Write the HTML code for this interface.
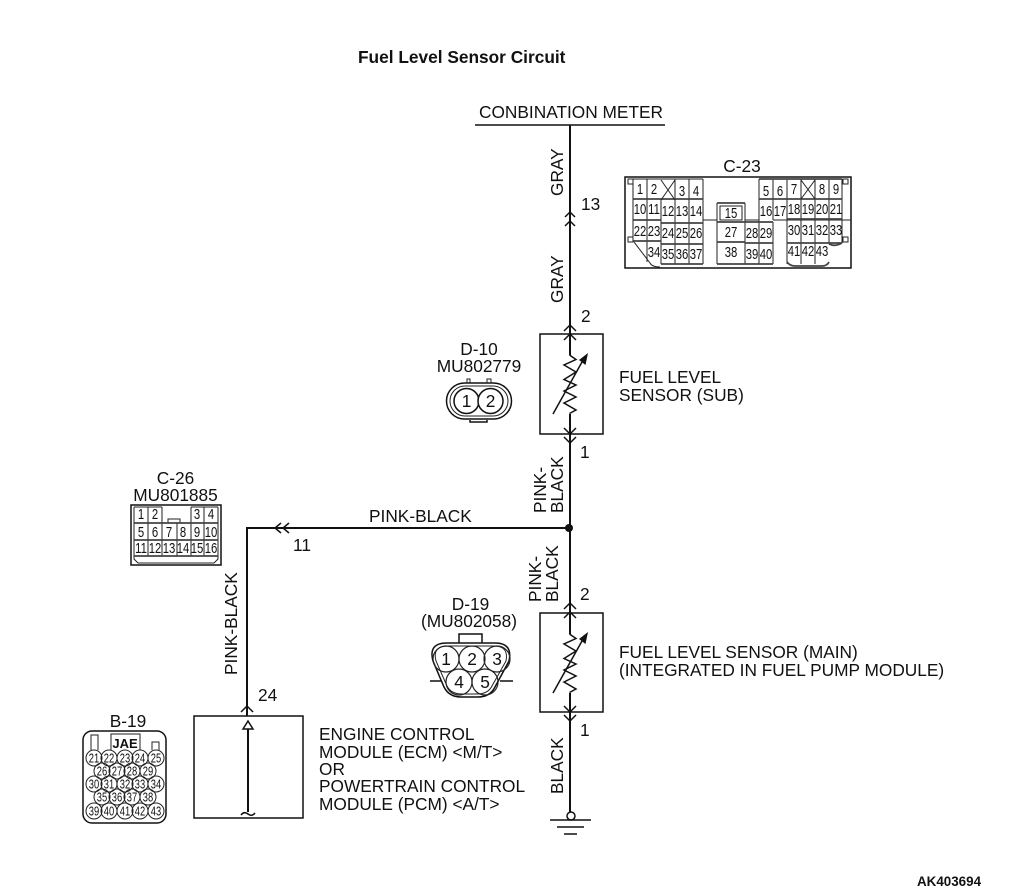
<!DOCTYPE html>
<html><head><meta charset="utf-8"><style>
html,body{margin:0;padding:0;background:#fff}
svg{display:block}
text{font-family:"Liberation Sans",sans-serif;fill:#111}
.t{font-size:17.3px}
.n{font-size:14.5px;text-anchor:middle;transform-box:fill-box;transform-origin:center;transform:scaleX(.78)}
.m{font-size:17.3px;text-anchor:middle}
.s{font-size:13px;text-anchor:middle;transform-box:fill-box;transform-origin:center;transform:scaleX(.72)}
.w{stroke:#111;stroke-width:2;fill:none}
.b{stroke:#111;stroke-width:1.5;fill:none}
.h{stroke:#222;stroke-width:1;fill:none}
.g{stroke:#444;stroke-width:1.8;fill:none}
</style></head><body>
<svg width="1010" height="896" viewBox="0 0 1010 896" xmlns="http://www.w3.org/2000/svg">
<text x="358" y="63" style="font-size:17.3px;font-weight:bold">Fuel Level Sensor Circuit</text>
<text x="917" y="886" style="font-size:13.4px;font-weight:bold">AK403694</text>
<text x="479" y="118" class="t">CONBINATION METER</text>
<path class="b" d="M475 125H665"/>
<path class="w" d="M570 125V355M570 414V634M570 693V813M569 528H247V716"/>
<circle cx="569" cy="528" r="4" fill="#111"/>
<path class="b" d="M565 217L570 212L575 217M565 226L570 221L575 226M564 331L570 325L576 331M564 340L570 334L576 340M564 428L570 434L576 428M564 437L570 443L576 437M564 609L570 603L576 609M564 618L570 612L576 618M564 706L570 712L576 706M564 715L570 721L576 715M281 523L275 528L281 533M289 523L283 528L289 533M241 712L247 706L253 712"/>
<g transform="translate(563,196) rotate(-90)"><text class="t">GRAY</text></g>
<g transform="translate(563,303) rotate(-90)"><text class="t">GRAY</text></g>
<g transform="translate(546,513) rotate(-90)"><text class="t">PINK-</text></g>
<g transform="translate(563,513) rotate(-90)"><text class="t">BLACK</text></g>
<g transform="translate(541,602) rotate(-90)"><text class="t">PINK-</text></g>
<g transform="translate(558,602) rotate(-90)"><text class="t">BLACK</text></g>
<g transform="translate(563,794) rotate(-90)"><text class="t">BLACK</text></g>
<g transform="translate(237,675) rotate(-90)"><text class="t">PINK-BLACK</text></g>
<text x="369" y="522" class="t">PINK-BLACK</text>
<text x="581" y="210" class="t">13</text>
<text x="581" y="322" class="t">2</text>
<text x="580" y="458" class="t">1</text>
<text x="580" y="600" class="t">2</text>
<text x="580" y="736" class="t">1</text>
<text x="293" y="551" class="t">11</text>
<text x="258" y="701" class="t">24</text>
<rect x="540" y="334" width="63" height="100" class="b"/>
<rect x="540" y="613" width="63" height="99" class="b"/>
<path class="b" stroke-width="1.7" d="M569.5 355L576 359.5L564 365L576 372L564 379.5L576 385L564 391L576 397L564 403L576 410L569.5 413.5"/>
<path class="b" d="M553 414L582 362"/>
<path d="M588 353L579 360L585.5 365Z" fill="#111"/>
<path class="b" stroke-width="1.7" d="M569.5 634L576 638.5L564 644L576 651L564 658.5L576 664L564 670L576 676L564 682L576 689L569.5 692.5"/>
<path class="b" d="M553 693L582 641"/>
<path d="M588 632L579 639L585.5 644Z" fill="#111"/>
<text x="619" y="383" class="t">FUEL LEVEL</text>
<text x="619" y="401" class="t">SENSOR (SUB)</text>
<text x="619" y="658" class="t">FUEL LEVEL SENSOR (MAIN)</text>
<text x="619" y="676" class="t">(INTEGRATED IN FUEL PUMP MODULE)</text>
<rect x="194" y="716" width="109" height="102" class="b"/>
<path class="w" d="M248 728V812"/>
<path class="b" d="M241 815Q244 811 248 814T255 813"/>
<path d="M243 729L248 721L253 729Z" fill="#fff" stroke="#111" stroke-width="1.5"/>
<text x="319" y="740" class="t">ENGINE CONTROL</text>
<text x="319" y="758" class="t">MODULE (ECM) &lt;M/T&gt;</text>
<text x="319" y="775" class="t">OR</text>
<text x="319" y="792" class="t">POWERTRAIN CONTROL</text>
<text x="319" y="810" class="t">MODULE (PCM) &lt;A/T&gt;</text>
<circle cx="571" cy="816" r="4" fill="#fff" stroke="#111" stroke-width="1.5"/>
<path class="b" d="M550 820H591M557 827H584M564 834H577"/>

<text x="742" y="172" class="m">C-23</text>
<rect x="625" y="177" width="226" height="91" class="b"/>
<path class="h" d="M633 179V241M647 179V262M661 199V264M675 179V264M689 179V264M703 179V264M633 179H703M703 220H717M745 220H759M773 220H851"/>
<path class="g" d="M633 199H703M633 220H661M661 223H703M633 241H661M661 244H703M661 264H703"/>
<path class="h" d="M661 180L675 200M675 180L661 200M634 242L650 263Q652 267 660 267M628 179H633V184H628ZM628 237H633V242H628ZM843 179H848V184H843ZM843 237H848V242H843Z"/>
<path class="h" d="M717 203V264M745 203V264M720 206H742V220H720ZM759 179V264M773 179V220M773 222V264M787 179V264M801 179V264M815 179V264M829 179V243M842 179V243"/>
<path class="g" d="M717 203H745M717 222H745M717 242H745M717 264H773M745 243H773M759 199H787M745 222H773M787 199H842M787 219H842M787 243H842M759 179H842M829 244Q835 247 842 243M787 262Q790 266 795 266H822Q827 266 829 262"/>
<path class="h" d="M801 180L815 199M815 180L801 199"/>
<g>
<text x="640" y="194" class="n">1</text><text x="654" y="194" class="n">2</text><text x="682" y="196" class="n">3</text><text x="696" y="196" class="n">4</text><text x="766" y="196" class="n">5</text><text x="780" y="196" class="n">6</text><text x="794" y="194" class="n">7</text><text x="822" y="194" class="n">8</text><text x="836" y="194" class="n">9</text>
<text x="640" y="214" class="n">10</text><text x="654" y="214" class="n">11</text><text x="668" y="216" class="n">12</text><text x="682" y="216" class="n">13</text><text x="696" y="216" class="n">14</text><text x="731" y="218" class="n">15</text><text x="766" y="216" class="n">16</text><text x="780" y="216" class="n">17</text><text x="794" y="214" class="n">18</text><text x="808" y="214" class="n">19</text><text x="822" y="214" class="n">20</text><text x="836" y="214" class="n">21</text>
<text x="640" y="236" class="n">22</text><text x="654" y="236" class="n">23</text><text x="668" y="238" class="n">24</text><text x="682" y="238" class="n">25</text><text x="696" y="238" class="n">26</text><text x="731" y="237" class="n">27</text><text x="752" y="238" class="n">28</text><text x="766" y="238" class="n">29</text><text x="794" y="235" class="n">30</text><text x="808" y="235" class="n">31</text><text x="822" y="235" class="n">32</text><text x="836" y="235" class="n">33</text>
<text x="654" y="257" class="n">34</text><text x="668" y="259" class="n">35</text><text x="682" y="259" class="n">36</text><text x="696" y="259" class="n">37</text><text x="731" y="257" class="n">38</text><text x="752" y="259" class="n">39</text><text x="766" y="259" class="n">40</text><text x="794" y="256" class="n">41</text><text x="808" y="256" class="n">42</text><text x="822" y="256" class="n">43</text>
</g>

<text x="479" y="355" class="m">D-10</text>
<text x="479" y="372" class="m">MU802779</text>
<rect x="446.5" y="383" width="65" height="36" rx="18" class="b"/>
<rect x="450" y="386" width="58" height="30" rx="15" class="h"/>
<circle cx="466.5" cy="401" r="12.5" class="b" style="fill:#fff"/><circle cx="490.5" cy="401" r="12.5" class="b" style="fill:#fff"/>
<path class="h" d="M467 383V379H470V383M487 383V379H491V383"/>
<path class="b" d="M470 420V422H487V420"/>
<text x="466.5" y="407" class="m">1</text><text x="490.5" y="407" class="m">2</text>

<text x="175.5" y="484" class="m">C-26</text>
<text x="175.5" y="501" class="m">MU801885</text>
<rect x="131" y="505" width="90" height="60" class="b"/>
<path class="h" d="M134 507H162M191 507H218M134 507V556M218 507V556M148 507V556M162 507V556M177 523V556M191 507V556M204 507V556M134 556V559L138 563H214L218 559V556M168 523V519H180V523"/>
<path class="g" d="M134 523H218M134 540H218M134 556H218"/>
<text x="141" y="519" class="n">1</text><text x="155" y="519" class="n">2</text><text x="197" y="519" class="n">3</text><text x="211" y="519" class="n">4</text>
<text x="141" y="537" class="n">5</text><text x="155" y="537" class="n">6</text><text x="169" y="537" class="n">7</text><text x="183" y="537" class="n">8</text><text x="197" y="537" class="n">9</text><text x="211" y="537" class="n">10</text>
<text x="141" y="553" class="n">11</text><text x="155" y="553" class="n">12</text><text x="169" y="553" class="n">13</text><text x="183" y="553" class="n">14</text><text x="197" y="553" class="n">15</text><text x="211" y="553" class="n">16</text>

<text x="470.5" y="610" class="m">D-19</text>
<text x="469" y="627" class="m">(MU802058)</text>
<path class="b" d="M459 643V634H482V643M447 643H495Q513 643 509 661L495 687Q490 697 478 697H461Q449 697 444 687L433 661Q428 643 447 643Z"/>
<path class="h" d="M448 646H494Q509 646 506 661L492 686Q488 694 477 694H462Q451 694 447 686L436 661Q432 646 448 646Z"/>
<path class="b" d="M430 681H441M500 681H513"/>
<g class="h" style="stroke-width:1.2">
<circle cx="446" cy="659" r="13"/><circle cx="472" cy="659" r="13"/><circle cx="497" cy="659" r="13"/><circle cx="459" cy="682" r="13"/><circle cx="485" cy="682" r="13"/>
</g>
<text x="446" y="665" class="m">1</text><text x="472" y="665" class="m">2</text><text x="497" y="665" class="m">3</text><text x="459" y="688" class="m">4</text><text x="485" y="688" class="m">5</text>

<text x="128" y="727" class="m">B-19</text>
<rect x="83" y="731" width="83" height="92" rx="9" class="b"/>
<path class="h" d="M91 750V735H98V750M111 750V734H140V750M152 750V742H159V750"/>
<text x="125" y="748" style="font-size:13px;font-weight:bold;text-anchor:middle">JAE</text>
<g class="h">
<circle cx="94" cy="758" r="8"/><circle cx="109" cy="758" r="8"/><circle cx="125" cy="758" r="8"/><circle cx="140" cy="758" r="8"/><circle cx="156" cy="758" r="8"/>
<circle cx="102" cy="771" r="8"/><circle cx="117" cy="771" r="8"/><circle cx="132" cy="771" r="8"/><circle cx="148" cy="771" r="8"/>
<circle cx="94" cy="784" r="8"/><circle cx="109" cy="784" r="8"/><circle cx="125" cy="784" r="8"/><circle cx="140" cy="784" r="8"/><circle cx="156" cy="784" r="8"/>
<circle cx="102" cy="797" r="8"/><circle cx="117" cy="797" r="8"/><circle cx="132" cy="797" r="8"/><circle cx="148" cy="797" r="8"/>
<circle cx="94" cy="811" r="8"/><circle cx="109" cy="811" r="8"/><circle cx="125" cy="811" r="8"/><circle cx="140" cy="811" r="8"/><circle cx="156" cy="811" r="8"/>
</g>
<text x="94" y="762.5" class="s">21</text><text x="109" y="762.5" class="s">22</text><text x="125" y="762.5" class="s">23</text><text x="140" y="762.5" class="s">24</text><text x="156" y="762.5" class="s">25</text>
<text x="102" y="775.5" class="s">26</text><text x="117" y="775.5" class="s">27</text><text x="132" y="775.5" class="s">28</text><text x="148" y="775.5" class="s">29</text>
<text x="94" y="788.5" class="s">30</text><text x="109" y="788.5" class="s">31</text><text x="125" y="788.5" class="s">32</text><text x="140" y="788.5" class="s">33</text><text x="156" y="788.5" class="s">34</text>
<text x="102" y="801.5" class="s">35</text><text x="117" y="801.5" class="s">36</text><text x="132" y="801.5" class="s">37</text><text x="148" y="801.5" class="s">38</text>
<text x="94" y="815.5" class="s">39</text><text x="109" y="815.5" class="s">40</text><text x="125" y="815.5" class="s">41</text><text x="140" y="815.5" class="s">42</text><text x="156" y="815.5" class="s">43</text>
</svg>
</body></html>
